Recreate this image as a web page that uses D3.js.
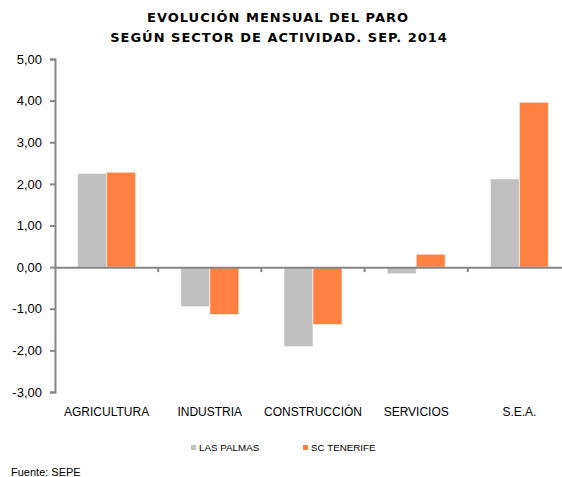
<!DOCTYPE html>
<html>
<head>
<meta charset="utf-8">
<script src="https://cdn.jsdelivr.net/npm/d3@7"></script>
<style>
  body { margin: 0; background: #fff; }
  svg { display: block; }
</style>
</head>
<body>
<script>
// data
var sectores = ["AGRICULTURA", "INDUSTRIA", "CONSTRUCCIÓN", "SERVICIOS", "S.E.A."];
var lasPalmas = [2.25, -0.95, -1.91, -0.16, 2.12];
var scTenerife = [2.28, -1.14, -1.38, 0.31, 3.96];
var series = ["LAS PALMAS", "SC TENERIFE"];
var colores = ["#c0c0c0", "#ff8040"];
var yTicks = [5, 4, 3, 2, 1, 0, -1, -2, -3];

var width = 562,
    height = 477;

var svg = d3.select("body")
    .append("svg")
    .attr("width", width)
    .attr("height", height);

// title
var title = svg.append("text")
    .attr("text-anchor", "middle")
    .style("font-family", "DejaVu Sans, Verdana, sans-serif")
    .style("font-weight", "bold")
    .style("font-size", "13px")
    .style("letter-spacing", "1px")
    .attr("fill", "#000");
title.append("tspan").attr("x", 278).attr("y", 22).text("EVOLUCIÓN MENSUAL DEL PARO");
title.append("tspan").attr("x", 279).attr("y", 42).text("SEGÚN SECTOR DE ACTIVIDAD. SEP. 2014");

// scales
var xScale = d3.scaleBand()
    .domain(sectores)
    .range([55, 571]);

var xInner = d3.scaleBand()
    .domain(series)
    .range([0, 58]);

var yScale = d3.scaleLinear()
    .domain([-3, 5])
    .range([392, 59]);

var rows = sectores.map(function(s, i) {
    return { sector: s, valores: [lasPalmas[i], scTenerife[i]] };
});

// bars
var groups = svg.selectAll("g.grupo")
    .data(rows)
    .enter()
    .append("g")
    .attr("class", "grupo")
    .attr("transform", function(d) {
        return "translate(" + (xScale(d.sector) + (xScale.bandwidth() - 58) / 2) + ",0)";
    });

groups.selectAll("rect")
    .data(function(d) { return d.valores; })
    .enter()
    .append("rect")
    .attr("x", function(d, i) { return xInner(series[i]); })
    .attr("width", xInner.bandwidth())
    .attr("y", function(d) { return yScale(Math.max(0, d)); })
    .attr("height", function(d) { return Math.abs(yScale(d) - yScale(0)); })
    .attr("fill", function(d, i) { return colores[i]; })
    .attr("stroke", "#ffffff")
    .attr("stroke-opacity", 0.6)
    .attr("stroke-width", 1);

// y axis
var yAxis = d3.axisLeft(yScale)
    .tickValues(yTicks)
    .tickSize(5)
    .tickPadding(8)
    .tickFormat(function(d) { return d.toFixed(2).replace(".", ","); });

var gy = svg.append("g")
    .attr("transform", "translate(55,0)")
    .call(yAxis);
gy.select(".domain").attr("stroke", "#868686").attr("stroke-width", 2);
gy.selectAll(".tick line").attr("stroke", "#868686").attr("stroke-width", 2);
gy.selectAll(".tick text")
    .style("font-family", "Liberation Sans, Arial, sans-serif")
    .style("font-size", "13px")
    .attr("fill", "#000");

// x axis on the zero line
var xAxis = d3.axisBottom(xScale)
    .tickSize(0)
    .tickFormat("");
var gx = svg.append("g")
    .attr("transform", "translate(0," + yScale(0) + ")")
    .call(xAxis);
gx.select(".domain").attr("stroke", "#868686").attr("stroke-width", 2);

// category separators
gx.selectAll("line.sep")
    .data(sectores.slice(1))
    .enter()
    .append("line")
    .attr("class", "sep")
    .attr("x1", function(d) { return xScale(d); })
    .attr("x2", function(d) { return xScale(d); })
    .attr("y1", 0)
    .attr("y2", 5)
    .attr("stroke", "#868686")
    .attr("stroke-width", 2);

// category labels at the bottom
svg.selectAll("text.cat")
    .data(sectores)
    .enter()
    .append("text")
    .attr("class", "cat")
    .attr("x", function(d) { return xScale(d) + xScale.bandwidth() / 2; })
    .attr("y", 416)
    .attr("text-anchor", "middle")
    .style("font-family", "Liberation Sans, Arial, sans-serif")
    .style("font-size", "12px")
    .attr("fill", "#000")
    .text(function(d) { return d; });

// legend
var legendX = [191, 303];
var legend = svg.selectAll("g.leyenda")
    .data(series)
    .enter()
    .append("g")
    .attr("class", "leyenda")
    .attr("transform", function(d, i) { return "translate(" + legendX[i] + ",451)"; });
legend.append("rect")
    .attr("x", 0)
    .attr("y", -6)
    .attr("width", 5)
    .attr("height", 5)
    .attr("fill", function(d, i) { return colores[i]; });
legend.append("text")
    .attr("x", 8)
    .attr("y", 0)
    .style("font-family", "Liberation Sans, Arial, sans-serif")
    .style("font-size", "9.8px")
    .attr("fill", "#000")
    .text(function(d) { return d; });

// source
svg.append("text")
    .attr("x", 11)
    .attr("y", 476)
    .style("font-family", "Liberation Sans, Arial, sans-serif")
    .style("font-size", "11px")
    .attr("fill", "#000")
    .text("Fuente: SEPE");
</script>
</body>
</html>
